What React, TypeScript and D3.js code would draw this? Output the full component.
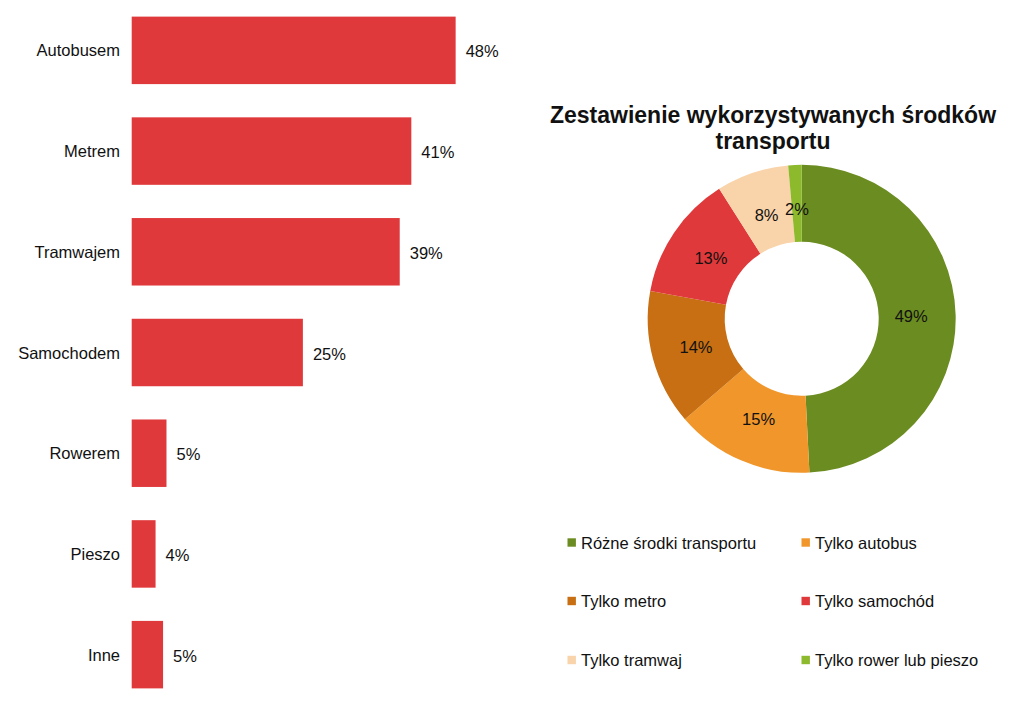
import React from "react";
import * as d3 from "d3";

const barCategories = ["Autobusem", "Metrem", "Tramwajem", "Samochodem", "Rowerem", "Pieszo", "Inne"];
const barValues = [47.5, 41.0, 39.3, 25.1, 5.1, 3.5, 4.6];
const barLabels = ["48%", "41%", "39%", "25%", "5%", "4%", "5%"];

const pieCategories = [
  "Różne środki transportu",
  "Tylko autobus",
  "Tylko metro",
  "Tylko samochód",
  "Tylko tramwaj",
  "Tylko rower lub pieszo",
];
const pieValues = [49.2, 14.5, 14.2, 13.1, 7.6, 1.4];
const pieLabels = ["49%", "15%", "14%", "13%", "8%", "2%"];
const pieColors = ["#6B8C21", "#F0962A", "#C76F12", "#E0393B", "#F9D3A9", "#8DB92D"];

const titleLines = ["Zestawienie wykorzystywanych środków", "transportu"];

const FONT = "'Liberation Sans', Arial, sans-serif";
const TEXT = "#111";

export default function App() {
  const W = 1024;
  const H = 705;

  const y = d3.scaleBand<string>().domain(barCategories).range([0, 705]).paddingInner(0.33).paddingOuter(0.165);
  const x = d3.scaleLinear().domain([0, 50]).range([131.7, 131.7 + 341]);

  const cx = 801.7;
  const cy = 318.8;
  const rOuter = 154;
  const rInner = 77;
  const pie = d3.pie<number>().sort(null).value((d) => d);
  const arcs = pie(pieValues);
  const arc = d3.arc<d3.PieArcDatum<number>>().innerRadius(rInner).outerRadius(rOuter);
  const labelArc = d3.arc<d3.PieArcDatum<number>>().innerRadius(rInner).outerRadius(rOuter - 12);

  const legendX = [567.5, 801.5];
  const legendY = [542.5, 601, 660];

  return (
    <svg width={W} height={H} style={{ position: "absolute", left: 0, top: 0, background: "#fff" }} fontFamily={FONT}>
      <rect x={0} y={0} width={W} height={H} fill="#fff" />
      {barCategories.map((c, i) => {
        const y0 = y(c)!;
        const bh = y.bandwidth();
        return (
          <g key={c}>
            <rect x={x(0)} y={y0} width={x(barValues[i]) - x(0)} height={bh} fill="#E0393B" />
            <text x={120} y={y0 + bh / 2} textAnchor="end" dominantBaseline="central" fontSize={16.5} fill={TEXT}>
              {c}
            </text>
            <text x={x(barValues[i]) + 10} y={y0 + bh / 2 + 1} dominantBaseline="central" fontSize={16.5} fill={TEXT}>
              {barLabels[i]}
            </text>
          </g>
        );
      })}

      <text x={773} y={123} textAnchor="middle" fontSize={23} fontWeight="bold" fill={TEXT}>
        {titleLines[0]}
      </text>
      <text x={773} y={149} textAnchor="middle" fontSize={23} fontWeight="bold" fill={TEXT}>
        {titleLines[1]}
      </text>

      <g transform={`translate(${cx},${cy})`}>
        {arcs.map((a, i) => (
          <path key={i} d={arc(a)!} fill={pieColors[i]} />
        ))}
        {arcs.map((a, i) => {
          const [lx, ly] = labelArc.centroid(a);
          return (
            <text key={"l" + i} x={lx} y={ly} textAnchor="middle" dominantBaseline="central" fontSize={16.5} fill={TEXT}>
              {pieLabels[i]}
            </text>
          );
        })}
      </g>

      {pieCategories.map((c, i) => {
        const lx = legendX[i % 2];
        const ly = legendY[Math.floor(i / 2)];
        return (
          <g key={c}>
            <rect x={lx} y={ly - 4.2} width={8.4} height={8.4} fill={pieColors[i]} />
            <text x={lx + 13.5} y={ly} dominantBaseline="central" fontSize={16.5} fill={TEXT}>
              {c}
            </text>
          </g>
        );
      })}
    </svg>
  );
}
